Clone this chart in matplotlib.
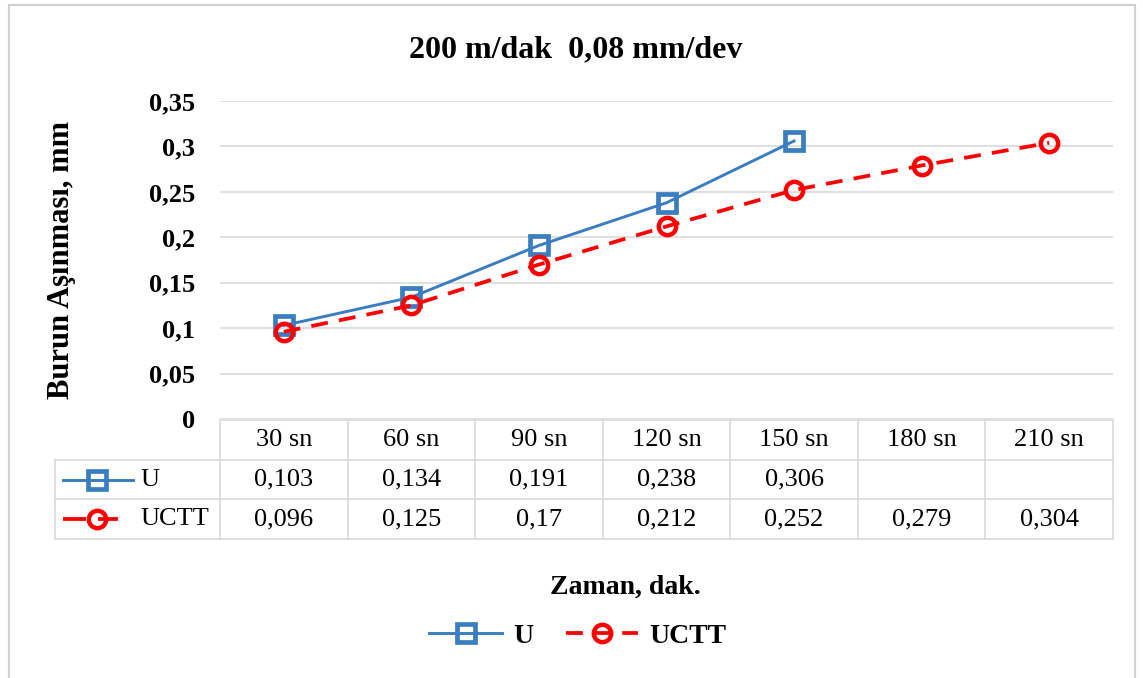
import matplotlib.pyplot as plt

plt.rcParams['font.family'] = ['Liberation Serif', 'DejaVu Serif']

times = ['30 sn', '60 sn', '90 sn', '120 sn', '150 sn', '180 sn', '210 sn']
u_vals = [0.103, 0.134, 0.191, 0.238, 0.306]
uctt_vals = [0.096, 0.125, 0.17, 0.212, 0.252, 0.279, 0.304]
y_ticks = [0, 0.05, 0.1, 0.15, 0.2, 0.25, 0.3, 0.35]

blue = '#3a7dc0'
red = '#ff0000'
grid_col = '#d9d9d9'
dash = (0, (4.5, 3))

W, H = 1143, 678
fig = plt.figure(figsize=(W / 100, H / 100), dpi=100)


def fx(px):
    return px / W


def fy(py):
    return 1 - py / H


def comma(v):
    return ('%g' % v).replace('.', ',')


# chart frame
fig.add_artist(plt.Rectangle((fx(9), fy(690)), fx(1135) - fx(9), fy(5) - fy(690),
                             transform=fig.transFigure, fill=False, ec='#d0d0d0', lw=1.5))

ax = fig.add_axes([fx(220), fy(419), fx(1113) - fx(220), fy(101) - fy(419)])
n = len(times)
ax.set_xlim(-0.5, n - 0.5)
ax.set_ylim(0, 0.35)
ax.set_yticks(y_ticks)
ax.set_yticklabels([comma(v) for v in y_ticks], fontsize=19, fontweight='bold')
ax.set_xticks([])
ax.tick_params(axis='y', length=0, pad=18)
for s in ax.spines.values():
    s.set_visible(False)
ax.grid(axis='y', color=grid_col, lw=1.2)
ax.set_axisbelow(True)

ax.plot(range(len(u_vals)), u_vals, color=blue, lw=2.1, marker='s', ms=13.5,
        mfc='none', mec=blue, mew=3.4, label='U', clip_on=False)
ax.plot(range(len(uctt_vals)), uctt_vals, color=red, lw=2.7, ls=dash,
        marker='o', ms=12.5, mfc='none', mec=red, mew=3.2, label='UCTT', clip_on=False)

# data table under the axis
tab = fig.add_axes([fx(220), fy(539), fx(1113) - fx(220), fy(420) - fy(539)])
tab.set_xlim(-0.5, n - 0.5)
tab.set_ylim(0, 3)
tab.axis('off')
col_w = (1113 - 220) / n
left = -0.5 - (220 - 55) / col_w
tab.plot([-0.5, n - 0.5], [3, 3], color=grid_col, lw=1.2, clip_on=False)
for yy in [0, 1, 2]:
    tab.plot([left, n - 0.5], [yy, yy], color=grid_col, lw=1.2, clip_on=False)
for i in range(n + 1):
    tab.plot([i - 0.5, i - 0.5], [0, 3], color=grid_col, lw=1.2, clip_on=False)
tab.plot([left, left], [0, 2], color=grid_col, lw=1.2, clip_on=False)

for i, t in enumerate(times):
    tab.text(i, 2.5, t, ha='center', va='center', fontsize=19)
for i, v in enumerate(u_vals):
    tab.text(i, 1.5, comma(v), ha='center', va='center', fontsize=19)
for i, v in enumerate(uctt_vals):
    tab.text(i, 0.5, comma(v), ha='center', va='center', fontsize=19)


def px_to_tab(px):
    return left + (px - 55) / col_w


# legend keys inside the table
tab.plot([px_to_tab(63), px_to_tab(133)], [1.5, 1.5], color=blue, lw=2.1, clip_on=False)
tab.plot([px_to_tab(97)], [1.5], marker='s', ms=13.5, mfc='none', mec=blue, mew=3.4,
         clip_on=False)
tab.text(px_to_tab(140), 1.5, 'U', ha='left', va='center', fontsize=19)
tab.plot([px_to_tab(63), px_to_tab(86)], [0.5, 0.5], color=red, lw=2.7,
         solid_capstyle='butt', clip_on=False)
tab.plot([px_to_tab(98), px_to_tab(118)], [0.5, 0.5], color=red, lw=2.7,
         solid_capstyle='butt', clip_on=False)
tab.plot([px_to_tab(97)], [0.5], marker='o', ms=12.5, mfc='none', mec=red, mew=3.2,
         clip_on=False)
tab.text(px_to_tab(140), 0.5, 'UCTT', ha='left', va='center', fontsize=19)

fig.text(fx(576), fy(50), '200 m/dak  0,08 mm/dev', ha='center', va='center',
         fontsize=23, fontweight='bold')
fig.text(fx(62), fy(260), 'Burun Aşınması, mm', ha='center', va='center',
         rotation=90, fontsize=22, fontweight='bold')
fig.text(fx(625), fy(587), 'Zaman, dak.', ha='center', va='center',
         fontsize=20, fontweight='bold')

fig.legend(loc='center', bbox_to_anchor=(fx(578), fy(636)), ncol=2, frameon=False,
           prop={'size': 20, 'weight': 'bold'}, handlelength=2.6, columnspacing=1.2,
           handletextpad=0.4)

fig.savefig('out.png', dpi=100)
